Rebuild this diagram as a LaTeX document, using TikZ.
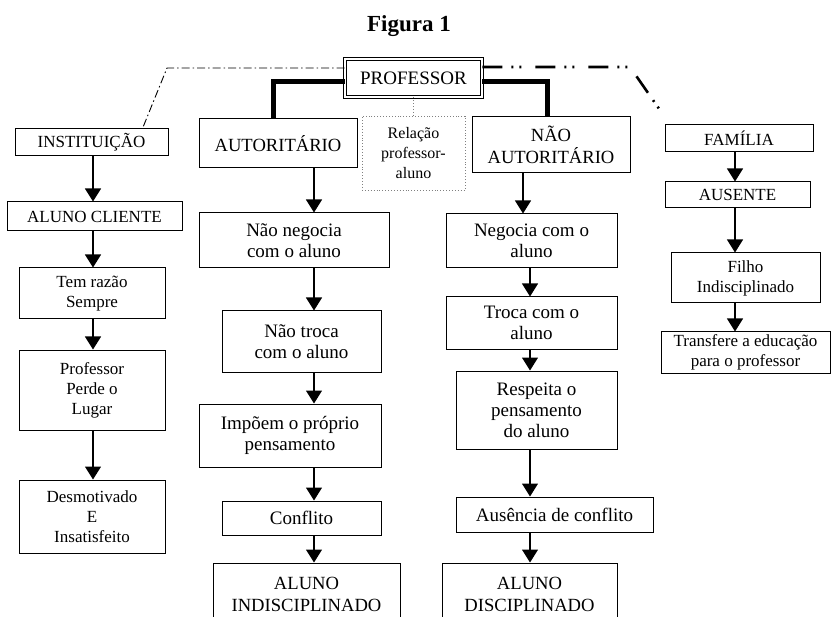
\documentclass[tikz,border=0pt]{standalone}
\usepackage{fontspec}
\setmainfont{Liberation Serif}
\usepackage{tikz}
\usetikzlibrary{arrows.meta}

\tikzset{
	box/.style={draw, line width=1pt, align=center, inner sep=2pt, font=\fontsize{17}{20}\selectfont},
	midbox/.style={box, font=\fontsize{19}{21}\selectfont},
	bigbox/.style={box, font=\fontsize{18.6}{22}\selectfont},
	arr/.style={line width=1.1pt, -{Triangle[width=16pt,length=13pt]}},
}

\begin{document}
\begin{tikzpicture}[x=1pt, y=-1pt]

	% picture frame (cuts the two bottom boxes like the page does)
	\clip (0,0) rectangle (832,617);

	% Title
	\node[font=\fontsize{23}{26}\selectfont\bfseries] (title) at (409,26) {Figura 1};

	% Top node and the three branches
	\node[draw, double, double distance=2pt, line width=0.8pt, minimum width=137pt, minimum height=38pt,
		font=\fontsize{19}{22}\selectfont] (professor) at (413.5,78) {PROFESSOR};
	\node[bigbox, minimum width=158pt, minimum height=49pt] (autoritario) at (278,143.5) {AUTORITÁRIO};
	\node[bigbox, minimum width=158pt, minimum height=56pt] (naoaut) at (551,145) {NÃO\\AUTORITÁRIO};
	\node[draw=gray, dotted, line width=0.9pt, align=center, minimum width=103pt, minimum height=74pt,
		font=\fontsize{16}{20}\selectfont] (relacao) at (413.5,153) {Relação\\professor-\\aluno};

	% Left column: institution
	\node[box, minimum width=153pt, minimum height=27pt] (instituicao) at (91.5,142.5) {INSTITUIÇÃO};
	\node[box, minimum width=175pt, minimum height=29pt] (alunocliente) at (94.5,216.5) {ALUNO CLIENTE};
	\node[box, minimum width=146pt, minimum height=51pt] (temrazao) at (92,293.5) {Tem razão\\Sempre};
	\node[box, minimum width=146pt, minimum height=80pt] (perde) at (92,390) {Professor\\Perde o\\Lugar};
	\node[box, minimum width=146pt, minimum height=73pt] (desmotivado) at (92,516.5) {Desmotivado\\E\\Insatisfeito};

	% Authoritarian column
	\node[midbox, minimum width=190pt, minimum height=55pt] (naonegocia) at (294,240.5) {Não negocia\\com o aluno};
	\node[midbox, minimum width=159pt, minimum height=61pt] (naotroca) at (301.5,341.5) {Não troca\\com o aluno};
	\node[midbox, minimum width=182pt, minimum height=63pt] (impoem) at (290,435.5) {Impõem o próprio\\pensamento};
	\node[midbox, minimum width=159pt, minimum height=34pt] (conflito) at (301.5,518) {Conflito};
	\node[bigbox, minimum width=187pt, minimum height=62pt] (indisciplinado) at (306.5,594) {ALUNO\\INDISCIPLINADO};

	% Non-authoritarian column
	\node[midbox, minimum width=171pt, minimum height=54pt] (negocia) at (531.5,241) {Negocia com o\\aluno};
	\node[midbox, minimum width=171pt, minimum height=52pt] (troca) at (531.5,323) {Troca com o\\aluno};
	\node[midbox, minimum width=161pt, minimum height=78pt] (respeita) at (536.5,410) {Respeita o\\pensamento\\do aluno};
	\node[midbox, minimum width=197pt, minimum height=35pt] (ausencia) at (554.5,514.5) {Ausência de conflito};
	\node[bigbox, minimum width=175pt, minimum height=62pt] (disciplinado) at (529.5,594) {ALUNO\\DISCIPLINADO};

	% Right column: family
	\node[box, minimum width=148pt, minimum height=27pt] (familia) at (739,138.5) {FAMÍLIA};
	\node[box, minimum width=145pt, minimum height=26pt] (ausente) at (737.5,195) {AUSENTE};
	\node[box, minimum width=149pt, minimum height=50pt] (filho) at (745.5,278) {Filho\\Indisciplinado};
	\node[box, minimum width=169pt, minimum height=41pt] (transfere) at (745.5,352.5) {Transfere a educação\\para o professor};

	% x of the arrows in each column
	\coordinate (colA) at (93,0);
	\coordinate (colB) at (314,0);
	\coordinate (colN) at (523,0);
	\coordinate (colC) at (530,0);
	\coordinate (colD) at (735,0);

	\foreach \from/\to/\col in {instituicao/alunocliente/colA, alunocliente/temrazao/colA,
		temrazao/perde/colA, perde/desmotivado/colA,
		autoritario/naonegocia/colB, naonegocia/naotroca/colB, naotroca/impoem/colB,
		impoem/conflito/colB, conflito/indisciplinado/colB,
		naoaut/negocia/colN, negocia/troca/colC, troca/respeita/colC,
		respeita/ausencia/colC, ausencia/disciplinado/colC,
		familia/ausente/colD, ausente/filho/colD, filho/transfere/colD}
		\draw[arr] (\from.south -| \col) -- (\to.north -| \col);

	% thick branches to the two kinds of teacher
	\draw[line width=5pt] ([yshift=-4pt]professor.west) -| ([xshift=-5pt]autoritario.north);
	\draw[line width=5pt] ([yshift=-4pt]professor.east) -| ([xshift=-4pt]naoaut.north);

	% dotted link to the relation label
	\draw[gray, dotted, line width=0.9pt] (professor.south) -- (relacao.north);

	% dash-dot links to institution and family
	\coordinate (lbend) at (167,68);
	\coordinate (rbend) at (630,67);
	\draw[line width=0.9pt, dash pattern=on 8pt off 3pt on 1.5pt off 3pt]
		(professor.west |- lbend) -- (lbend) -- ([xshift=-26pt]instituicao.north east);
	\draw[line width=2.6pt, dash pattern=on 20pt off 9pt on 2pt off 6pt on 2pt off 14pt]
		(professor.east |- rbend) -- (rbend) -- ([shift={(2pt,5pt)}]familia.north west);

\end{tikzpicture}
\end{document}
